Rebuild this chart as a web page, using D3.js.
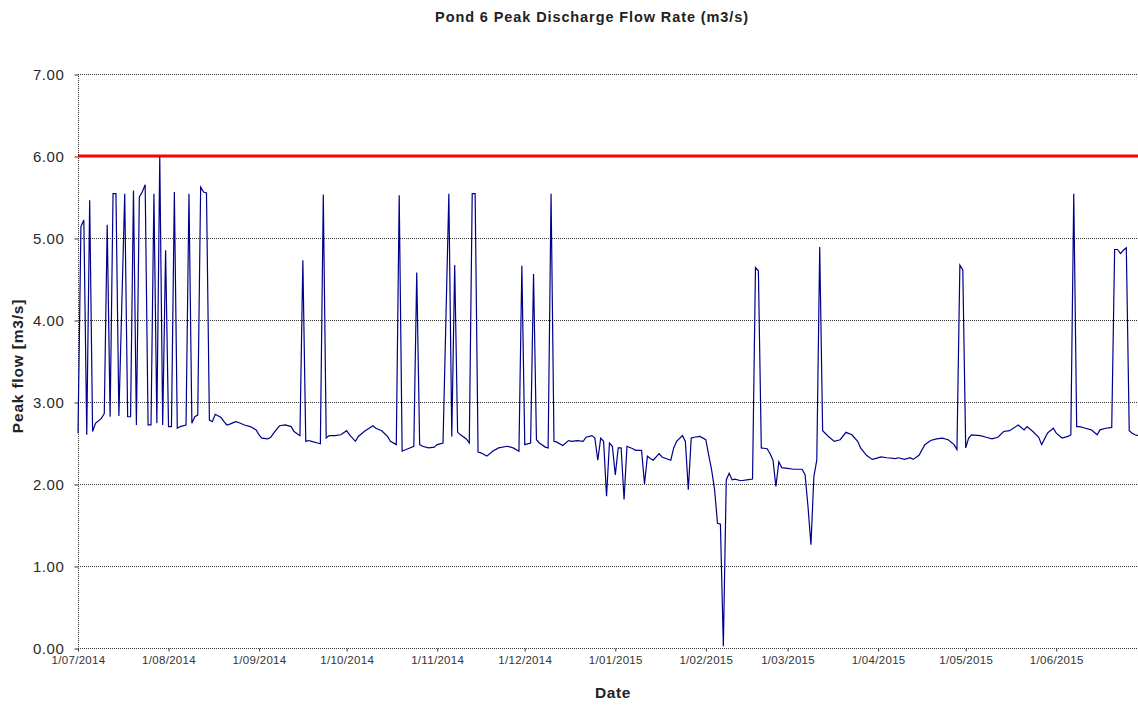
<!DOCTYPE html>
<html>
<head>
<meta charset="utf-8">
<script src="https://cdnjs.cloudflare.com/ajax/libs/d3/7.8.5/d3.min.js"></script>
<style>
  body { margin: 0; background: #fff; }
  text { font-family: "Liberation Sans", Arial, sans-serif; }
</style>
</head>
<body>
<svg id="chart" width="1138" height="706"></svg>
<script>
// daily peak discharge readings
var dates = [
  "2014-07-01","2014-07-02","2014-07-03","2014-07-04","2014-07-05","2014-07-06","2014-07-07","2014-07-09","2014-07-10","2014-07-11",
  "2014-07-12","2014-07-13","2014-07-14","2014-07-15","2014-07-17","2014-07-18","2014-07-19","2014-07-20","2014-07-21","2014-07-22",
  "2014-07-23","2014-07-24","2014-07-25","2014-07-26","2014-07-27","2014-07-28","2014-07-29","2014-07-30","2014-07-31","2014-08-01",
  "2014-08-02","2014-08-03","2014-08-04","2014-08-05","2014-08-07","2014-08-08","2014-08-09","2014-08-10","2014-08-11","2014-08-12",
  "2014-08-13","2014-08-14","2014-08-15","2014-08-16","2014-08-17","2014-08-19","2014-08-20","2014-08-21","2014-08-22","2014-08-24",
  "2014-08-25","2014-08-27","2014-08-29","2014-08-31","2014-09-01","2014-09-02","2014-09-04","2014-09-05","2014-09-06","2014-09-08",
  "2014-09-10","2014-09-12","2014-09-13","2014-09-15","2014-09-16","2014-09-17","2014-09-18","2014-09-19","2014-09-21","2014-09-22",
  "2014-09-23","2014-09-24","2014-09-25","2014-09-27","2014-09-29","2014-10-01","2014-10-02","2014-10-04","2014-10-05","2014-10-07",
  "2014-10-10","2014-10-11","2014-10-13","2014-10-15","2014-10-16","2014-10-18","2014-10-19","2014-10-20","2014-10-22","2014-10-24",
  "2014-10-25","2014-10-26","2014-10-27","2014-10-29","2014-10-31","2014-11-01","2014-11-03","2014-11-05","2014-11-06","2014-11-07",
  "2014-11-08","2014-11-09","2014-11-11","2014-11-12","2014-11-13","2014-11-14","2014-11-15","2014-11-16","2014-11-18","2014-11-20",
  "2014-11-22","2014-11-25","2014-11-27","2014-11-29","2014-11-30","2014-12-01","2014-12-03","2014-12-04","2014-12-05","2014-12-06",
  "2014-12-08","2014-12-09","2014-12-10","2014-12-11","2014-12-12","2014-12-14","2014-12-16","2014-12-17","2014-12-19","2014-12-21",
  "2014-12-22","2014-12-24","2014-12-25","2014-12-26","2014-12-27","2014-12-28","2014-12-29","2014-12-30","2014-12-31","2015-01-01",
  "2015-01-02","2015-01-03","2015-01-04","2015-01-05","2015-01-07","2015-01-08","2015-01-10","2015-01-11","2015-01-12","2015-01-13",
  "2015-01-14","2015-01-16","2015-01-17","2015-01-20","2015-01-21","2015-01-22","2015-01-24","2015-01-25","2015-01-26","2015-01-27",
  "2015-01-28","2015-01-30","2015-02-01","2015-02-02","2015-02-03","2015-02-04","2015-02-05","2015-02-06","2015-02-07","2015-02-08",
  "2015-02-09","2015-02-10","2015-02-11","2015-02-13","2015-02-15","2015-02-17","2015-02-18","2015-02-19","2015-02-20","2015-02-22",
  "2015-02-23","2015-02-24","2015-02-25","2015-02-26","2015-02-27","2015-03-01","2015-03-03","2015-03-06","2015-03-07","2015-03-08",
  "2015-03-09","2015-03-10","2015-03-11","2015-03-12","2015-03-13","2015-03-15","2015-03-17","2015-03-19","2015-03-21","2015-03-23",
  "2015-03-25","2015-03-26","2015-03-28","2015-03-30","2015-03-31","2015-04-02","2015-04-04","2015-04-07","2015-04-08","2015-04-10",
  "2015-04-12","2015-04-13","2015-04-15","2015-04-17","2015-04-19","2015-04-21","2015-04-23","2015-04-25","2015-04-27","2015-04-28",
  "2015-04-29","2015-04-30","2015-05-01","2015-05-02","2015-05-03","2015-05-06","2015-05-08","2015-05-10","2015-05-12","2015-05-14",
  "2015-05-16","2015-05-19","2015-05-21","2015-05-22","2015-05-24","2015-05-26","2015-05-27","2015-05-29","2015-05-31","2015-06-01",
  "2015-06-03","2015-06-05","2015-06-06","2015-06-07","2015-06-08","2015-06-09","2015-06-11","2015-06-13","2015-06-15","2015-06-16",
  "2015-06-18","2015-06-20","2015-06-21","2015-06-22","2015-06-23","2015-06-24","2015-06-25","2015-06-26","2015-06-27","2015-06-28",
  "2015-06-29"
];
var peakFlow = [
  2.62,5.14,5.22,2.60,5.46,2.64,2.74,2.80,2.86,5.16,
  2.82,5.54,5.54,2.83,5.54,2.82,2.82,5.58,2.72,5.50,
  5.56,5.65,2.72,2.72,5.54,2.74,5.99,2.72,4.85,2.70,
  2.70,5.56,2.68,2.70,2.72,5.54,2.74,2.82,2.84,5.62,
  5.56,5.55,2.78,2.76,2.85,2.81,2.76,2.72,2.73,2.76,
  2.75,2.72,2.70,2.66,2.60,2.56,2.55,2.57,2.62,2.71,
  2.72,2.70,2.64,2.59,4.73,2.52,2.53,2.52,2.50,2.49,
  5.53,2.56,2.59,2.59,2.60,2.65,2.60,2.52,2.58,2.64,
  2.71,2.68,2.65,2.58,2.52,2.48,5.52,2.40,2.43,2.46,
  4.58,2.48,2.46,2.44,2.45,2.48,2.50,5.54,2.58,4.67,
  2.63,2.60,2.55,2.50,5.54,5.54,2.39,2.38,2.34,2.40,
  2.44,2.46,2.44,2.40,4.66,2.48,2.50,4.56,2.54,2.50,
  2.45,2.44,5.54,2.52,2.51,2.47,2.53,2.52,2.53,2.52,
  2.57,2.59,2.56,2.29,2.56,2.52,1.85,2.50,2.46,2.11,
  2.44,2.44,1.81,2.46,2.43,2.41,2.41,2.00,2.34,2.31,
  2.29,2.37,2.33,2.29,2.44,2.52,2.59,2.52,1.93,2.56,
  2.57,2.58,2.54,2.35,2.17,1.93,1.52,1.51,0.02,2.05,
  2.13,2.05,2.06,2.04,2.05,2.06,4.64,4.60,2.44,2.43,
  2.37,2.29,1.97,2.27,2.20,2.19,2.18,2.18,2.11,1.72,
  1.26,2.09,2.29,4.89,2.65,2.58,2.52,2.54,2.63,2.60,
  2.52,2.44,2.35,2.30,2.31,2.33,2.32,2.31,2.32,2.30,
  2.32,2.30,2.35,2.48,2.53,2.55,2.56,2.54,2.48,2.42,
  4.67,4.61,2.44,2.56,2.60,2.59,2.57,2.55,2.57,2.64,
  2.65,2.72,2.66,2.70,2.64,2.57,2.48,2.62,2.68,2.62,
  2.56,2.58,2.60,5.54,2.70,2.70,2.68,2.66,2.60,2.66,
  2.68,2.69,4.86,4.86,4.81,4.85,4.88,2.65,2.62,2.60,
  2.59
];
var limitFlow = 6.00;
var yTicks = [0, 1, 2, 3, 4, 5, 6, 7];
var xTickDates = ["2014-07-01","2014-08-01","2014-09-01","2014-10-01","2014-11-01","2014-12-01",
                  "2015-01-01","2015-02-01","2015-03-01","2015-04-01","2015-05-01","2015-06-01"];
var domainStart = "2014-07-01", domainEnd = "2015-06-29";

function drawChart() {
  var parse = d3.timeParse("%Y-%m-%d");
  var fmt = function(d) { return d.getDate() + "/" + d3.timeFormat("%m/%Y")(d); };

  var svg = d3.select("#chart");

  var plotLeft = 78, plotRight = 1138, plotTop = 74, plotBottom = 648;

  var x = d3.scaleTime().domain([parse(domainStart), parse(domainEnd)]).range([plotLeft, plotRight]);
  var y = d3.scaleLinear().domain([0, 7]).range([plotBottom, plotTop]);

  var data = dates.map(function(d, i) { return { date: parse(d), value: peakFlow[i] }; });

  // gridlines
  svg.append("g")
      .selectAll("line")
      .data(yTicks)
      .enter().append("line")
        .attr("x1", plotLeft).attr("x2", plotRight)
        .attr("y1", function(d) { return y(d) + 0.5; })
        .attr("y2", function(d) { return y(d) + 0.5; })
        .attr("stroke", "#333")
        .attr("stroke-width", 1)
        .attr("stroke-dasharray", "1,1");

  // left axis line, dotted like the grid
  svg.append("line")
      .attr("x1", plotLeft + 0.5).attr("x2", plotLeft + 0.5)
      .attr("y1", plotTop).attr("y2", plotBottom)
      .attr("stroke", "#333")
      .attr("stroke-dasharray", "1,1");

  // y axis
  var yAxis = d3.axisLeft(y)
      .tickValues(yTicks)
      .tickFormat(d3.format(".2f"))
      .tickSize(4)
      .tickPadding(10);
  var gy = svg.append("g").attr("transform", "translate(" + (plotLeft + 0.5) + ",0.5)").call(yAxis);
  gy.select(".domain").remove();
  gy.selectAll("line").attr("stroke", "#333");
  gy.selectAll("text")
      .attr("font-family", "Liberation Sans, Arial, sans-serif")
      .attr("font-size", 15)
      .attr("letter-spacing", "0.6px")
      .attr("fill", "#2a2a2a");

  // x axis
  var xAxis = d3.axisBottom(x)
      .tickValues(xTickDates.map(parse))
      .tickFormat(fmt)
      .tickSize(3)
      .tickPadding(4);
  var gx = svg.append("g").attr("transform", "translate(0," + (plotBottom + 0.5) + ")").call(xAxis);
  gx.select(".domain").remove();
  gx.selectAll("line").attr("stroke", "#333");
  gx.selectAll("text")
      .attr("font-family", "Liberation Sans, Arial, sans-serif")
      .attr("font-size", 11.5)
      .attr("letter-spacing", "0.3px")
      .attr("fill", "#333");

  // limit line
  svg.append("line")
      .attr("x1", plotLeft).attr("x2", plotRight)
      .attr("y1", y(limitFlow)).attr("y2", y(limitFlow))
      .attr("stroke", "#ff0000")
      .attr("stroke-width", 3);

  // flow series
  var line = d3.line()
      .x(function(d) { return x(d.date); })
      .y(function(d) { return y(d.value); });

  svg.append("path")
      .datum(data)
      .attr("fill", "none")
      .attr("stroke", "#00008b")
      .attr("stroke-width", 1.2)
      .attr("d", line);

  // titles
  svg.append("text")
      .attr("x", 592).attr("y", 22)
      .attr("text-anchor", "middle")
      .attr("font-size", 14.5)
      .attr("letter-spacing", "0.9px")
      .attr("font-weight", "bold")
      .attr("fill", "#222")
      .text("Pond 6 Peak Discharge Flow Rate (m3/s)");

  svg.append("text")
      .attr("x", 613).attr("y", 698)
      .attr("text-anchor", "middle")
      .attr("font-size", 15.5)
      .attr("letter-spacing", "0.6px")
      .attr("font-weight", "bold")
      .attr("fill", "#222")
      .text("Date");

  svg.append("text")
      .attr("transform", "translate(23,366) rotate(-90)")
      .attr("text-anchor", "middle")
      .attr("font-size", 15.5)
      .attr("letter-spacing", "0.8px")
      .attr("font-weight", "bold")
      .attr("fill", "#222")
      .text("Peak flow [m3/s]");
}

drawChart();
</script>
</body>
</html>
